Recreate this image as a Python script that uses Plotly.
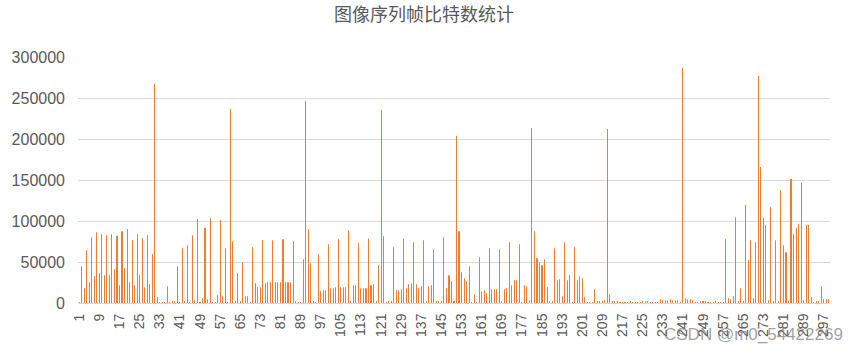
import plotly.graph_objects as go

title_text = "图像序列帧比特数统计"

frame_bits = [
    1200, 44800, 17900, 64400, 25300, 80300, 32600, 86400, 36300, 83900,
    33800, 82700, 33800, 83900, 41200, 81900, 21600, 87600, 42400, 90100,
    25300, 76600, 21600, 83900, 33800, 79100, 19200, 82700, 22800, 59500,
    267300, 6900, 800, 800, 800, 20400, 800, 2000, 2000, 44800,
    800, 66800, 2000, 70500, 800, 82700, 3300, 102300, 800, 5700,
    91700, 4500, 103500, 800, 800, 9400, 101100, 8100, 66800, 800,
    236800, 75400, 2000, 36300, 2000, 49700, 8100, 8100, 800, 68100,
    24000, 19200, 19200, 76600, 24000, 25300, 25300, 76600, 25300, 25300,
    25300, 77800, 25300, 25300, 25300, 75400, 2000, 800, 800, 53400,
    246600, 90100, 48500, 2000, 800, 59500, 14300, 15500, 15500, 71700,
    17900, 17900, 19200, 77800, 19200, 19200, 19200, 88800, 2000, 21600,
    21600, 72900, 17900, 17900, 17900, 78600, 21600, 22800, 2000, 46000,
    235600, 81500, 800, 2000, 2000, 68100, 15500, 15500, 16700, 78600,
    17900, 22800, 24000, 74200, 22800, 17900, 20400, 76600, 2000, 20400,
    21600, 65600, 2000, 2000, 2000, 80300, 17900, 33800, 26500, 2000,
    203800, 87600, 37500, 30200, 26500, 44800, 800, 10600, 800, 55800,
    14300, 15500, 11800, 66800, 16700, 16700, 16700, 65600, 2000, 16700,
    17900, 74200, 21600, 27700, 27700, 71700, 800, 21600, 20400, 3300,
    213500, 87600, 54600, 49700, 46000, 53400, 19200, 2000, 2000, 66800,
    27700, 28900, 8100, 74200, 27700, 33800, 800, 68100, 27700, 32600,
    30200, 6900, 800, 800, 800, 16700, 2000, 2000, 2000, 3300,
    212300, 10600, 2000, 2000, 2000, 800, 800, 800, 800, 2000,
    800, 800, 800, 1200, 1600, 1600, 1600, 800, 800, 800,
    1200, 4500, 3300, 3300, 3300, 4500, 3300, 3300, 3300, 800,
    286900, 5700, 4500, 4500, 3300, 800, 800, 2000, 2000, 2000,
    800, 800, 800, 2000, 800, 800, 800, 77800, 5700, 4500,
    8100, 104700, 2000, 17900, 2000, 119400, 52600, 76600, 5700, 74200,
    277100, 165800, 103500, 95000, 3300, 116900, 2000, 76600, 2000, 137800,
    70500, 61900, 2000, 151200, 84000, 91700, 96600, 146300, 3300, 95000,
    95000, 6900, 800, 2000, 2000, 20400, 4500, 4500, 4500,
]
frame_index = list(range(1, len(frame_bits) + 1))
x_tick_labels = [str(i) for i in range(1, len(frame_bits) + 1, 8)]
y_tick_values = [0, 50000, 100000, 150000, 200000, 250000, 300000]

grey = "#595959"
grid = "#D9D9D9"

fig = go.Figure(
    go.Bar(
        x=frame_index,
        y=frame_bits,
        marker=dict(color="#ED7D31", line=dict(width=0)),
        hoverinfo="x+y",
    )
)

fig.update_layout(
    width=848,
    height=352,
    margin=dict(l=73, r=18, t=57, b=49),
    paper_bgcolor="white",
    plot_bgcolor="white",
    bargap=0.97,
    showlegend=False,
    title=dict(
        text=title_text,
        x=0.5,
        xanchor="center",
        y=1 - 15 / 352,
        yanchor="middle",
        font=dict(family="Noto Sans CJK SC", size=18, color=grey),
    ),
    font=dict(family="Liberation Sans, Arial", color=grey),
    annotations=[
        dict(
            text="CSDN @m0_54422269",
            xref="paper",
            yref="paper",
            x=1.02,
            y=-0.13,
            xanchor="right",
            yanchor="middle",
            showarrow=False,
            font=dict(family="Liberation Sans, Arial", size=17, color="rgba(120,120,120,0.7)"),
        )
    ],
)

fig.update_xaxes(
    type="linear",
    range=[0.5, len(frame_bits) + 0.5],
    tickmode="array",
    tickvals=[int(t) for t in x_tick_labels],
    ticktext=x_tick_labels,
    tickangle=-90,
    tickfont=dict(size=14, color=grey),
    showgrid=False,
    showline=True,
    linecolor=grid,
    linewidth=1,
    ticks="",
    zeroline=False,
    ticklabelstandoff=4,
)

fig.update_yaxes(
    range=[0, 300000],
    tickmode="array",
    tickvals=y_tick_values,
    ticktext=[str(v) for v in y_tick_values],
    tickfont=dict(size=16, color=grey),
    showgrid=True,
    gridcolor=grid,
    gridwidth=1,
    zeroline=False,
    showline=False,
    ticks="",
    ticklabelstandoff=12,
)

fig.write_html("out.html")
